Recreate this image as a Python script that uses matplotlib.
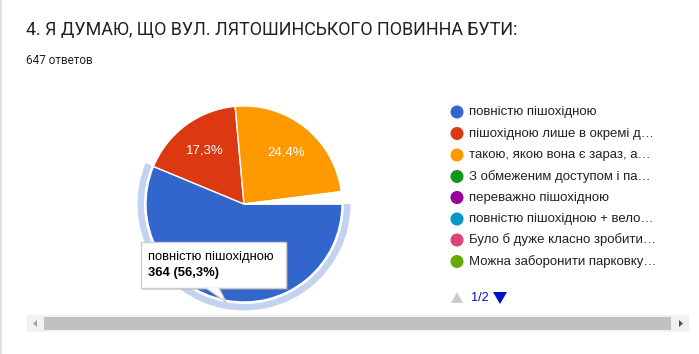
import matplotlib
matplotlib.use("Agg")
import matplotlib.pyplot as plt
from matplotlib.patches import Rectangle, Polygon

# data
title = "4. Я ДУМАЮ, ЩО ВУЛ. ЛЯТОШИНСЬКОГО ПОВИННА БУТИ:"
subtitle = "647 ответов"
labels = [
    "повністю пішохідною",
    "пішохідною лише в окремі д…",
    "такою, якою вона є зараз, а…",
    "З обмеженим доступом і па…",
    "переважно пішохідною",
    "повністю пішохідною + вело…",
    "Було б дуже класно зробити…",
    "Можна заборонити парковку…",
]
counts = [364, 112, 158, 4, 3, 2, 2, 2]
colors = ["#3366cc", "#dc3912", "#ff9900", "#109618",
          "#990099", "#0099c6", "#dd4477", "#66aa00"]
tooltip_title = "повністю пішохідною"
tooltip_value = "364 (56,3%)"

W, H = 699, 354
cx, cy, r = 244, 204, 98

fig = plt.figure(figsize=(W / 100, H / 100), dpi=100)
ax = fig.add_axes([0, 0, 1, 1])

# highlight ring around the hovered slice
ring_colors = ["#c3d2f0"] + ["none"] * (len(counts) - 1)
ax.pie(counts, colors=ring_colors, center=(cx, cy), radius=r + 8.5,
       startangle=0, counterclock=True,
       wedgeprops=dict(width=6.5, linewidth=0))

# main pie (tiny slices show as white in the original)
pie_colors = colors[:3] + ["white"] * (len(counts) - 3)


def pct_label(p):
    if 5 < p < 50:
        return f"{p:.1f}%".replace(".", ",")
    return ""


wedges, _, autotexts = ax.pie(
    counts, colors=pie_colors, center=(cx, cy), radius=r,
    startangle=0, counterclock=True, autopct=pct_label, pctdistance=0.68,
    wedgeprops=dict(edgecolor="white", linewidth=1),
    textprops=dict(color="white", fontsize=9.5, family="Liberation Sans"))

ax.set_xlim(0, W)
ax.set_ylim(H, 0)
ax.set_aspect("auto")
ax.axis("off")

# card border on the left
ax.plot([1, 1], [0, H], color="#dadce0", lw=1.2)

ax.text(26, 30, title, fontsize=12.9, family="Roboto", color="#202124",
        va="center", ha="left")
ax.text(26, 61, subtitle, fontsize=8.5, family="Roboto", color="#202124",
        va="center", ha="left")

# legend
row_y = [112, 133.5, 155, 176.5, 197.5, 219, 240, 261.5]
ax.scatter([457] * len(labels), row_y, s=88, c=colors, linewidths=0, zorder=4)
for lab, y in zip(labels, row_y):
    ax.text(469, y, lab, fontsize=9.5, family="Liberation Sans",
            color="#222222", va="center", ha="left")

# pager
ax.add_patch(Polygon([[451, 303], [463, 303], [457, 292]], closed=True,
                     facecolor="#cccccc", edgecolor="none"))
ax.text(471, 298, "1/2", fontsize=9.2, family="Liberation Sans",
        color="#0011cc", va="center", ha="left")
ax.add_patch(Polygon([[493, 292], [507, 292], [500, 304]], closed=True,
                     facecolor="#0011cc", edgecolor="none"))

# tooltip
ax.add_patch(Rectangle((142, 243.5), 146, 46, facecolor="#999999",
                       alpha=0.35, edgecolor="none", zorder=9))
ax.add_patch(Rectangle((141, 242), 145, 46, facecolor="white",
                       edgecolor="#cccccc", lw=1, zorder=10))
ax.add_patch(Polygon([[206, 288], [219, 288], [226, 302]], closed=True,
                     facecolor="white", edgecolor="none", zorder=11))
ax.plot([206, 226, 219], [288, 302, 288], color="#cccccc", lw=1, zorder=11)
ax.text(148, 257, tooltip_title, fontsize=9.4, family="Liberation Sans",
        color="#000000", va="center", ha="left", zorder=12)
ax.text(148, 273, tooltip_value, fontsize=9.4, family="Liberation Sans",
        fontweight="bold", color="#000000", va="center", ha="left", zorder=12)

# horizontal scrollbar
ax.add_patch(Rectangle((27, 315), 662, 17, facecolor="#f1f1f1", edgecolor="none"))
ax.add_patch(Rectangle((44, 317), 627, 13, facecolor="#c1c1c1", edgecolor="none"))
ax.add_patch(Polygon([[37, 320], [37, 327], [33, 323.5]], closed=True,
                     facecolor="#a3a3a3", edgecolor="none"))
ax.add_patch(Polygon([[679, 320], [679, 327], [683, 323.5]], closed=True,
                     facecolor="#505050", edgecolor="none"))

fig.savefig("out.png", dpi=100)
